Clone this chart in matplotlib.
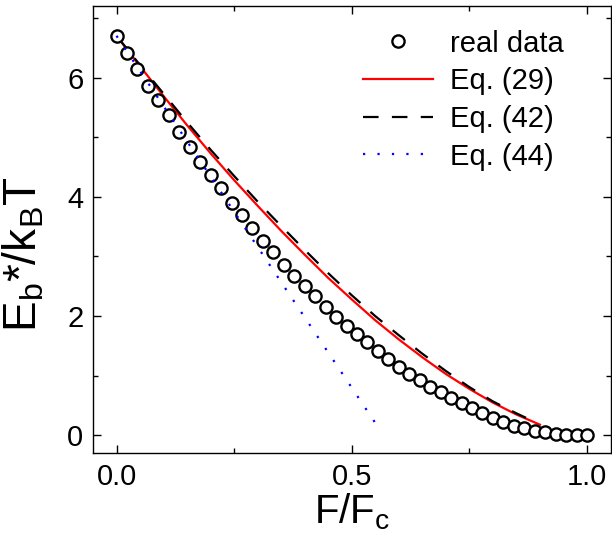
import matplotlib
matplotlib.use("Agg")
import matplotlib.pyplot as plt
import numpy as np

plt.rcParams['font.family'] = ['Liberation Sans', 'DejaVu Sans']
plt.rcParams['mathtext.fontset'] = 'custom'
plt.rcParams['mathtext.rm'] = 'Liberation Sans'
plt.rcParams['mathtext.it'] = 'Liberation Sans:italic'

# real data (F/Fc from 0 to 1, 46 points)
data_x = [k / 45 for k in range(46)]
data_y = [6.70, 6.42, 6.14, 5.86, 5.63, 5.37, 5.09, 4.84, 4.59, 4.36,
          4.14, 3.89, 3.69, 3.47, 3.26, 3.08, 2.85, 2.67, 2.50, 2.33,
          2.15, 1.98, 1.84, 1.70, 1.56, 1.41, 1.28, 1.15, 1.03, 0.93,
          0.82, 0.72, 0.63, 0.54, 0.46, 0.37, 0.29, 0.22, 0.16, 0.12,
          0.08, 0.05, 0.03, 0.01, 0.01, 0.00]

# Eq. (29)
eq29_x = [0.00, 0.05, 0.10, 0.15, 0.20, 0.25, 0.30, 0.35, 0.40, 0.45,
          0.50, 0.55, 0.60, 0.65, 0.70, 0.75, 0.80, 0.85, 0.90]
eq29_y = [6.70, 6.19, 5.69, 5.20, 4.73, 4.28, 3.85, 3.43, 3.03, 2.64,
          2.28, 1.93, 1.61, 1.31, 1.03, 0.78, 0.55, 0.35, 0.18]

# Eq. (42)
eq42_x = [0.00, 0.05, 0.10, 0.15, 0.20, 0.25, 0.30, 0.35, 0.40, 0.45,
          0.50, 0.55, 0.60, 0.65, 0.70, 0.75, 0.80, 0.85, 0.88]
eq42_y = [6.70, 6.21, 5.73, 5.25, 4.79, 4.35, 3.92, 3.51, 3.11, 2.72,
          2.35, 2.00, 1.68, 1.37, 1.08, 0.81, 0.57, 0.37, 0.26]

# Eq. (44)
eq44_x = [0.00, 0.05, 0.10, 0.15, 0.20, 0.25, 0.30, 0.35, 0.40, 0.45, 0.50, 0.55]
eq44_y = [6.70, 6.11, 5.52, 4.93, 4.34, 3.75, 3.16, 2.57, 1.98, 1.39, 0.80, 0.21]

labels = ['real data', 'Eq. (29)', 'Eq. (42)', 'Eq. (44)']

fig = plt.figure(figsize=(6.12, 5.35), dpi=100)
ax = fig.add_axes([93/612, 1 - 453.3/535, (610.5 - 93)/612, (453.3 - 6)/535])

ax.plot(eq29_x, eq29_y, color='#ff0000', lw=1.6, zorder=2, label=labels[1])
ax.plot(eq42_x, eq42_y, color='black', lw=1.6, linestyle=(0, (7, 6)), zorder=2, label=labels[2])
ax.plot(data_x, data_y, linestyle='none', marker='o', markersize=8.8,
        markerfacecolor='white', markeredgecolor='black', markeredgewidth=1.7,
        zorder=3, label=labels[0])
ax.plot(eq44_x, eq44_y, color='#0000ff', lw=1.6, linestyle=(0, (1, 5.5)), zorder=4, label=labels[3])

ax.set_xlim(-0.05, 1.05)
ax.set_ylim(-0.3, 7.2)
ax.set_xticks([0.0, 0.5, 1.0])
ax.set_xticklabels(['0.0', '0.5', '1.0'])
ax.set_yticks([0, 2, 4, 6])
ax.set_xticks([0.25, 0.75], minor=True)
ax.set_yticks([1, 3, 5, 7], minor=True)
ax.tick_params(which='both', direction='in', top=True, right=True, width=1.0)
ax.tick_params(which='major', length=6, labelsize=21, pad=7)
ax.tick_params(which='minor', length=3.5)
for s in ax.spines.values():
    s.set_linewidth(1.0)

ax.set_xlabel(r'F/F$_\mathregular{c}$', fontsize=29, labelpad=0)
ax.set_ylabel(r'E$_\mathregular{b}$*/k$_\mathregular{B}$T', fontsize=33)
ax.yaxis.set_label_coords(-0.089, 0.445)

h, l = ax.get_legend_handles_labels()
order = [2, 0, 1, 3]
leg = ax.legend([h[i] for i in order], [l[i] for i in order], loc='upper left',
                bbox_to_anchor=(0.522, 0.947), frameon=False, fontsize=21,
                handlelength=2.4, handletextpad=0.58, labelspacing=0.33,
                borderaxespad=0.0, borderpad=0.0)

fig.savefig('out.png', dpi=100)
